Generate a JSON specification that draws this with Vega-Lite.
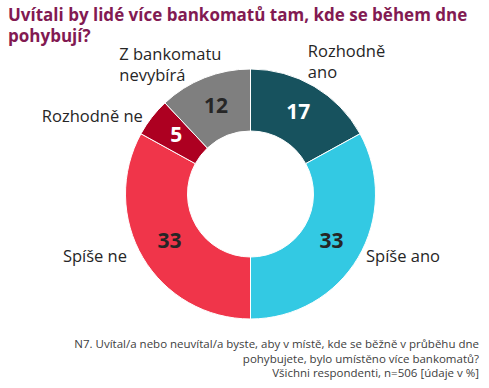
{
  "$schema": "https://vega.github.io/schema/vega-lite/v6.json",
  "padding": {"left": 8, "right": 0, "top": 0, "bottom": 0},
  "background": "white",
  "config": {"view": {"stroke": null}, "font": "Open Sans"},
  "title": {
    "text": ["Uvítali by lidé více bankomatů tam, kde se během dne", "pohybují?"],
    "anchor": "start",
    "orient": "top",
    "font": "Open Sans",
    "fontSize": 17,
    "fontWeight": "bold",
    "color": "#821A52",
    "lineHeight": 21,
    "offset": -46,
    "dx": -2
  },
  "data": {
    "values": [
      {"odpoved": "Rozhodně ano", "popisek": "Rozhodně\nano", "poradi": 1, "hodnota": 17},
      {"odpoved": "Spíše ano", "popisek": "Spíše ano", "poradi": 2, "hodnota": 33},
      {"odpoved": "Spíše ne", "popisek": "Spíše ne", "poradi": 3, "hodnota": 33},
      {"odpoved": "Rozhodně ne", "popisek": "Rozhodně ne", "poradi": 4, "hodnota": 5},
      {"odpoved": "Z bankomatu nevybírá", "popisek": "Z bankomatu\nnevybírá", "poradi": 5, "hodnota": 12}
    ]
  },
  "vconcat": [
    {
      "width": 481,
      "height": 388,
      "title": {
        "text": ["N7. Uvítal/a nebo neuvítal/a byste, aby v místě, kde se běžně v průběhu dne", "pohybujete, bylo umístěno více bankomatů?", "Všichni respondenti, n=506 [údaje v %]"],
        "orient": "bottom",
        "anchor": "end",
        "font": "Open Sans",
        "fontSize": 11.5,
        "fontWeight": "normal",
        "color": "#404040",
        "lineHeight": 14.5,
        "offset": -49,
        "dx": -12
      },
      "encoding": {
        "theta": {"field": "hodnota", "type": "quantitative", "stack": true},
        "order": {"field": "poradi", "type": "quantitative"},
        "detail": {"field": "odpoved", "type": "nominal"}
      },
      "layer": [
        {
          "mark": {"type": "arc", "radius": 125, "innerRadius": 63, "stroke": "white", "strokeWidth": 1},
          "encoding": {
            "color": {
              "field": "odpoved",
              "type": "nominal",
              "scale": {
                "domain": ["Rozhodně ano", "Spíše ano", "Spíše ne", "Rozhodně ne", "Z bankomatu nevybírá"],
                "range": ["#17525E", "#33C9E3", "#F0354A", "#AD0021", "#7F7F7F"]
              },
              "legend": null
            }
          }
        },
        {
          "mark": {"type": "text", "radius": 94, "font": "Open Sans", "fontWeight": "bold", "fontSize": 21, "baseline": "middle", "align": "center"},
          "encoding": {
            "text": {"field": "hodnota", "type": "quantitative"},
            "color": {
              "condition": {"test": "datum.odpoved === 'Rozhodně ano' || datum.odpoved === 'Rozhodně ne'", "value": "#FFFFFF"},
              "value": "#262626"
            }
          }
        },
        {
          "mark": {"type": "text", "radius": 150, "align": "left", "baseline": "middle", "lineBreak": "\n", "lineHeight": 21, "fontSize": 16.5, "color": "#262626", "dx": -19, "dy": -13},
          "encoding": {
            "text": {"condition": {"test": "datum.odpoved === 'Rozhodně ano'", "field": "popisek", "type": "nominal"}, "value": ""}
          }
        },
        {
          "mark": {"type": "text", "radius": 150, "align": "left", "baseline": "middle", "lineBreak": "\n", "lineHeight": 21, "fontSize": 16.5, "color": "#262626", "dx": -76, "dy": 0},
          "encoding": {
            "text": {"condition": {"test": "datum.odpoved === 'Z bankomatu nevybírá'", "field": "popisek", "type": "nominal"}, "value": ""}
          }
        },
        {
          "mark": {"type": "text", "radius": 140, "align": "right", "baseline": "middle", "fontSize": 16.5, "color": "#262626", "dx": 3, "dy": 9},
          "encoding": {
            "text": {"condition": {"test": "datum.odpoved === 'Rozhodně ne'", "field": "popisek", "type": "nominal"}, "value": ""}
          }
        },
        {
          "mark": {"type": "text", "radius": 140, "align": "right", "baseline": "middle", "fontSize": 16.5, "color": "#262626", "dx": -3, "dy": -8},
          "encoding": {
            "text": {"condition": {"test": "datum.odpoved === 'Spíše ne'", "field": "popisek", "type": "nominal"}, "value": ""}
          }
        },
        {
          "mark": {"type": "text", "radius": 140, "align": "left", "baseline": "middle", "fontSize": 16.5, "color": "#262626", "dx": -5, "dy": -8},
          "encoding": {
            "text": {"condition": {"test": "datum.odpoved === 'Spíše ano'", "field": "popisek", "type": "nominal"}, "value": ""}
          }
        }
      ]
    }
  ]
}
